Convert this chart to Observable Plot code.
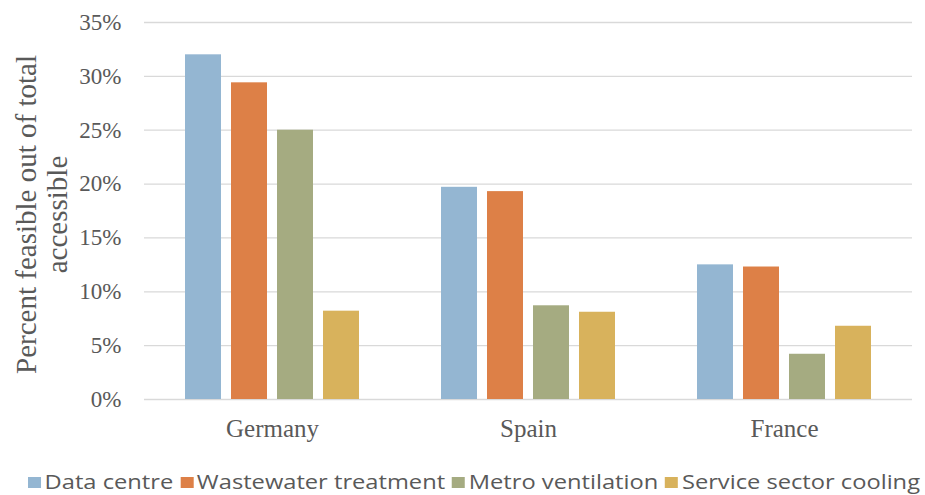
<!DOCTYPE html>
<html>
<head>
<meta charset="utf-8">
<script src="https://cdn.jsdelivr.net/npm/d3@7"></script>
<script src="https://cdn.jsdelivr.net/npm/@observablehq/plot@0.6"></script>
<style>
  html, body { margin: 0; padding: 0; background: #fff; }
  #chart { width: 925px; height: 495px; position: relative; }
  .legend { position: absolute; left: 28px; top: 469px; display: inline-flex; align-items: center; white-space: nowrap; font-family: "Open Sans", sans-serif; font-size: 20px; line-height: 26px; color: #595959; transform-origin: 0 50%; }
  .legend .item { display: flex; align-items: center; margin-right: 6px; }
  .legend .sw { width: 11px; height: 11px; margin-right: 3px; }
</style>
</head>
<body>
<div id="chart"></div>
<script>
const countries = ["Germany", "Spain", "France"];
const sectors = ["Data centre", "Wastewater treatment", "Metro ventilation", "Service sector cooling"];
const colors = ["#94B6D2", "#DD8047", "#A5AB81", "#D8B25C"];
const dataCentre = [0.32, 0.197, 0.125];
const wastewater = [0.294, 0.193, 0.123];
const metro = [0.25, 0.087, 0.042];
const serviceCooling = [0.082, 0.081, 0.068];
const yTicks = [0, 0.05, 0.10, 0.15, 0.20, 0.25, 0.30, 0.35];
const yLabel = "Percent feasible out of total\naccessible";

const series = [dataCentre, wastewater, metro, serviceCooling];
const data = [];
countries.forEach((c, i) => sectors.forEach((s, j) => data.push({country: c, sector: s, value: series[j][i]})));

const chart = Plot.plot({
  width: 925,
  height: 455,
  marginLeft: 143,
  marginRight: 12,
  marginTop: 22,
  marginBottom: 56,
  style: {fontFamily: "'Liberation Serif', 'Times New Roman', serif", fontSize: "23px", color: "#595959", background: "white"},
  fx: {domain: countries, padding: 0, label: null},
  x: {domain: sectors, paddingInner: 0.21, paddingOuter: 0.83, axis: null},
  y: {domain: [0, 0.35], label: null},
  color: {domain: sectors, range: colors},
  marks: [
    Plot.ruleY(yTicks, {stroke: "#d9d9d9", strokeWidth: 1.3}),
    Plot.barY(data, {fx: "country", x: "sector", y: "value", fill: "sector"}),
    Plot.axisY({ticks: yTicks, tickFormat: d => Math.round(d * 100) + "%", tickSize: 0, tickPadding: 23, label: null, fontSize: 23, fill: "#595959"}),
    Plot.axisFx({anchor: "bottom", tickSize: 0, tickPadding: 20, label: null, fontSize: 25, fill: "#595959"}),
    Plot.text([{country: "Germany"}], {fx: "country", text: () => yLabel, frameAnchor: "left", rotate: -90, dx: -103, dy: 3.5, lineHeight: 1.08, fontSize: 29, fill: "#595959", textAnchor: "middle"})
  ]
});
document.getElementById("chart").appendChild(chart);

const legend = document.createElement("div");
legend.className = "legend";
sectors.forEach((s, i) => {
  const item = document.createElement("div");
  item.className = "item";
  const sw = document.createElement("span");
  sw.className = "sw";
  sw.style.background = colors[i];
  const t = document.createElement("span");
  t.textContent = s;
  item.appendChild(sw);
  item.appendChild(t);
  legend.appendChild(item);
});
document.getElementById("chart").appendChild(legend);
const w = legend.getBoundingClientRect().width - 6;
legend.style.transform = `scaleX(${892 / w})`;
</script>
</body>
</html>
